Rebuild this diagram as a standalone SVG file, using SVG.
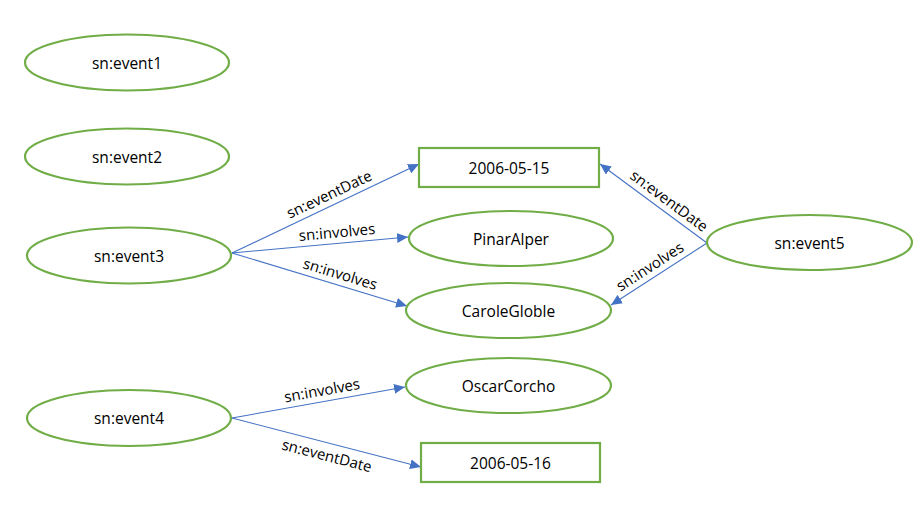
<svg xmlns="http://www.w3.org/2000/svg" width="923" height="530" viewBox="0 0 923 530">
<style>
.n ellipse,.n rect{fill:#fff;stroke:#70AD47;stroke-width:2.2}
.n text{font-family:"Open Sans","Liberation Sans",sans-serif;font-size:15.5px;fill:#000;text-anchor:middle;dominant-baseline:central}
.e line{stroke:#4472C4;stroke-width:1.1;marker-end:url(#ah)}
.e text{font-family:"Open Sans","Liberation Sans",sans-serif;font-size:15px;fill:#000;text-anchor:middle}
</style>
<defs>
<marker id="ah" markerUnits="userSpaceOnUse" markerWidth="12" markerHeight="10" refX="11" refY="5" orient="auto">
<path d="M0,0 L11,5 L0,10 Z" fill="#4472C4"/>
</marker>
</defs>
<rect width="923" height="530" fill="#fff"/>
<g class="e" id="connectors">
<line x1="232" y1="253" x2="419" y2="164"/>
<line x1="232" y1="253" x2="408" y2="237"/>
<line x1="232" y1="253" x2="407" y2="306"/>
<line x1="707" y1="243" x2="600" y2="164"/>
<line x1="707" y1="243" x2="611" y2="305"/>
<line x1="232" y1="418" x2="405" y2="387"/>
<line x1="232" y1="418" x2="421" y2="467"/>
<text transform="translate(334,204.5) rotate(-25.4)" y="-6">sn:eventDate</text>
<text transform="translate(338,243.4) rotate(-5.2)" y="-6">sn:involves</text>
<text transform="translate(337,284.8) rotate(16.8)" y="-6">sn:involves</text>
<text transform="translate(662.5,210) rotate(36.4)" y="-6">sn:eventDate</text>
<text transform="translate(656,276) rotate(-32.9)" y="-6">sn:involves</text>
<text transform="translate(324,401.5) rotate(-10.2)" y="-6">sn:involves</text>
<text transform="translate(330,443.4) rotate(14.5)" y="18">sn:eventDate</text>
</g>
<g class="n" id="event1"><ellipse cx="127" cy="62.5" rx="102" ry="28"/><text x="127" y="62.5">sn:event1</text></g>
<g class="n" id="event2"><ellipse cx="127" cy="156.5" rx="102" ry="28"/><text x="127" y="156.5">sn:event2</text></g>
<g class="n" id="event3"><ellipse cx="129" cy="255.5" rx="102" ry="28"/><text x="129" y="255.5">sn:event3</text></g>
<g class="n" id="event4"><ellipse cx="129" cy="418" rx="102" ry="28"/><text x="129" y="418">sn:event4</text></g>
<g class="n" id="event5"><ellipse cx="809.5" cy="242.5" rx="102.5" ry="27.5"/><text x="809.5" y="242.5">sn:event5</text></g>
<g class="n" id="date1"><rect x="419" y="148" width="180" height="39"/><text x="509" y="167.5">2006-05-15</text></g>
<g class="n" id="date2"><rect x="421" y="443" width="179" height="39"/><text x="510.5" y="462.5">2006-05-16</text></g>
<g class="n" id="pinar"><ellipse cx="511" cy="238.5" rx="102" ry="27.5"/><text x="511" y="238.5">PinarAlper</text></g>
<g class="n" id="carole"><ellipse cx="508.5" cy="310.5" rx="102.5" ry="27.5"/><text x="508.5" y="310.5">CaroleGloble</text></g>
<g class="n" id="oscar"><ellipse cx="508.5" cy="385.5" rx="102.5" ry="27.5"/><text x="508.5" y="385.5">OscarCorcho</text></g>
</svg>
